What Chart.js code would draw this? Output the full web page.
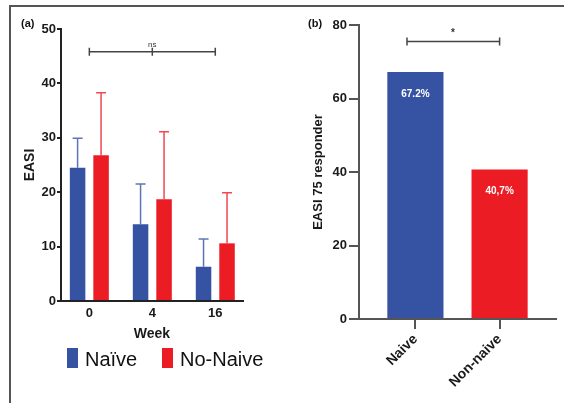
<!DOCTYPE html>
<html>
<head>
<meta charset="utf-8">
<script src="https://cdn.jsdelivr.net/npm/chart.js@4.4.0/dist/chart.umd.min.js"></script>
<style>
  body { margin: 0; background: #fff; }
  #wrap { position: relative; width: 564px; height: 403px; overflow: hidden; font-family: "Liberation Sans", Arial, sans-serif; color: #111; }
  #frame { position: absolute; left: 9px; top: 5px; width: 600px; height: 500px; border-top: 2px solid #555; border-left: 2px solid #555; }
  #chartA { position: absolute; left: 0; top: 0; }
  #chartB { position: absolute; left: 290px; top: 0; }
  .panel { position: absolute; font-size: 11px; font-weight: bold; line-height: 11px; }
  .leg { position: absolute; font-size: 20px; line-height: 20px; }
  .sw { position: absolute; width: 11px; height: 20px; }
</style>
</head>
<body>
<div id="wrap">
  <div id="frame"></div>
  <canvas id="chartA" width="290" height="350"></canvas>
  <canvas id="chartB" width="274" height="403"></canvas>
  <div class="panel" style="left:21px;top:18px">(a)</div>
  <div class="panel" style="left:308px;top:18px">(b)</div>
  <div id="legend"></div>
</div>
<script>
// panel (a): EASI by week
const weeks = ["0", "4", "16"];
const naiveMean = [24.5, 14.1, 6.3];
const naiveSD = [5.4, 7.4, 5.1];
const noNaiveMean = [26.8, 18.7, 10.6];
const noNaiveSD = [11.5, 12.4, 9.3];
const easiTicks = [0, 10, 20, 30, 40, 50];
const seriesNames = ["Naïve", "No-Naive"];

// panel (b): EASI 75 responders
const groups = ["Naive", "Non-naive"];
const responders = [67.2, 40.7];
const responderText = ["67.2%", "40,7%"];
const respTicks = [0, 20, 40, 60, 80];

// significance brackets: from, to, y
const nsBracket = [0, 2, 45.8];
const starBracket = [-0.1, 1, 75.5];

const blue = "#3652a2";
const red = "#ec1c24";
const colors = [blue, red];

Chart.defaults.font.family = '"Liberation Sans", Arial, sans-serif';
Chart.defaults.color = "#1a1a1a";

// legend for panel a
const legend = document.getElementById("legend");
const legendX = [67, 162];
seriesNames.forEach((name, i) => {
  legend.innerHTML += `<div class="sw" style="left:${legendX[i]}px;top:348px;background:${colors[i]}"></div>
  <div class="leg" style="left:${legendX[i] + 18}px;top:349px">${name}</div>`;
});

const errorBars = {
  id: "errorBars",
  afterDatasetsDraw(chart) {
    const ctx = chart.ctx;
    const y = chart.scales.y;
    chart.data.datasets.forEach((ds, i) => {
      if (!ds.sd) return;
      chart.getDatasetMeta(i).data.forEach((bar, j) => {
        const top = y.getPixelForValue(ds.data[j].y + ds.sd[j]);
        ctx.save();
        ctx.strokeStyle = ds.backgroundColor;
        ctx.globalAlpha = 0.8;
        ctx.lineWidth = 1.5;
        ctx.beginPath();
        ctx.moveTo(bar.x, bar.y);
        ctx.lineTo(bar.x, top);
        ctx.moveTo(bar.x - 5, top);
        ctx.lineTo(bar.x + 5, top);
        ctx.stroke();
        ctx.restore();
      });
    });
  },
};

const bracket = {
  id: "bracket",
  afterDatasetsDraw(chart, args, opts) {
    const { ctx, scales: { x, y } } = chart;
    const x1 = x.getPixelForValue(opts.span[0]);
    const x2 = x.getPixelForValue(opts.span[1]);
    const yy = y.getPixelForValue(opts.span[2]);
    const caps = [x1, x2];
    if (opts.mid != null) caps.push(x.getPixelForValue(opts.mid));
    ctx.save();
    ctx.strokeStyle = "#444";
    ctx.lineWidth = 1.5;
    ctx.beginPath();
    ctx.moveTo(x1, yy);
    ctx.lineTo(x2, yy);
    caps.forEach((px) => {
      ctx.moveTo(px, yy - 4);
      ctx.lineTo(px, yy + 4);
    });
    ctx.stroke();
    ctx.fillStyle = "#333";
    ctx.font = opts.font;
    ctx.textAlign = "center";
    ctx.textBaseline = "bottom";
    ctx.fillText(opts.text, x.getPixelForValue(opts.textX), yy - 3);
    ctx.restore();
  },
};

const barText = {
  id: "barText",
  afterDatasetsDraw(chart) {
    const ctx = chart.ctx;
    ctx.save();
    ctx.fillStyle = "#fff";
    ctx.font = 'bold 10px "Liberation Sans", Arial, sans-serif';
    ctx.textAlign = "center";
    ctx.textBaseline = "middle";
    chart.getDatasetMeta(0).data.forEach((bar, j) => {
      ctx.fillText(responderText[j], bar.x, bar.y + 22);
    });
    ctx.restore();
  },
};

const tickFont = { size: 13, weight: "bold" };

new Chart(document.getElementById("chartA"), {
  type: "bar",
  data: {
    datasets: [
      { label: seriesNames[0], data: naiveMean.map((v, i) => ({ x: i, y: v })), sd: naiveSD, backgroundColor: blue },
      { label: seriesNames[1], data: noNaiveMean.map((v, i) => ({ x: i, y: v })), sd: noNaiveSD, backgroundColor: red },
    ],
  },
  options: {
    responsive: false,
    animation: false,
    devicePixelRatio: 1,
    categoryPercentage: 0.746,
    barPercentage: 0.66,
    layout: { padding: { left: 18, right: 47, top: 29, bottom: 7 } },
    plugins: {
      legend: { display: false },
      tooltip: { enabled: false },
      bracket: { span: nsBracket, mid: 1, textX: 1, text: "ns", font: '8px "Liberation Sans", Arial, sans-serif' },
    },
    scales: {
      x: {
        type: "linear",
        offset: false,
        min: -0.45,
        max: 2.44,
        afterBuildTicks: (s) => { s.ticks = weeks.map((w, i) => ({ value: i })); },
        afterFit: (s) => { s.height = 42; },
        ticks: { callback: (v) => weeks[v], font: tickFont, padding: 5, autoSkip: false, maxRotation: 0 },
        grid: { display: false, drawTicks: false, offset: false },
        border: { display: true, color: "#222", width: 2 },
        title: { display: true, text: "Week", font: { size: 14, weight: "bold" }, padding: 0 },
      },
      y: {
        min: 0,
        max: 50,
        afterBuildTicks: (s) => { s.ticks = easiTicks.map((v) => ({ value: v })); },
        afterFit: (s) => { s.width = 43; },
        ticks: { font: tickFont, padding: 1 },
        grid: { display: true, drawOnChartArea: false, tickLength: 4, color: "#222", lineWidth: 2 },
        border: { display: true, color: "#222", width: 2 },
        title: { display: true, text: "EASI", font: { size: 14, weight: "bold" }, padding: { top: 4, bottom: 0 } },
      },
    },
  },
  plugins: [errorBars, bracket],
});

new Chart(document.getElementById("chartB"), {
  type: "bar",
  data: {
    datasets: [
      { label: "EASI 75 responder", data: responders.map((v, i) => ({ x: i, y: v })), backgroundColor: colors },
    ],
  },
  options: {
    responsive: false,
    animation: false,
    devicePixelRatio: 1,
    categoryPercentage: 1,
    barPercentage: 0.667,
    layout: { padding: { left: 17, right: 8, top: 25, bottom: 4 } },
    plugins: {
      legend: { display: false },
      tooltip: { enabled: false },
      bracket: { span: starBracket, textX: 0.446, text: "*", font: 'bold 10px "Liberation Sans", Arial, sans-serif' },
    },
    scales: {
      x: {
        type: "linear",
        offset: false,
        min: -0.67,
        max: 1.67,
        afterBuildTicks: (s) => { s.ticks = groups.map((g, i) => ({ value: i })); },
        afterFit: (s) => { s.height = 80; },
        ticks: { callback: (v) => groups[v], font: { size: 14, weight: "bold" }, padding: 2, autoSkip: false, minRotation: 45, maxRotation: 45 },
        grid: { display: true, drawOnChartArea: false, offset: false, tickLength: 10, color: "#555", lineWidth: 2 },
        border: { display: true, color: "#555", width: 2 },
      },
      y: {
        min: 0,
        max: 80,
        afterBuildTicks: (s) => { s.ticks = respTicks.map((v) => ({ value: v })); },
        afterFit: (s) => { s.width = 52; },
        ticks: { font: tickFont, padding: 2 },
        grid: { display: true, drawOnChartArea: false, tickLength: 10, color: "#555", lineWidth: 2 },
        border: { display: true, color: "#555", width: 2 },
        title: { display: true, text: "EASI 75 responder", font: { size: 13, weight: "bold" }, padding: { top: 4, bottom: 0 } },
      },
    },
  },
  plugins: [bracket, barText],
});
</script>
</body>
</html>
